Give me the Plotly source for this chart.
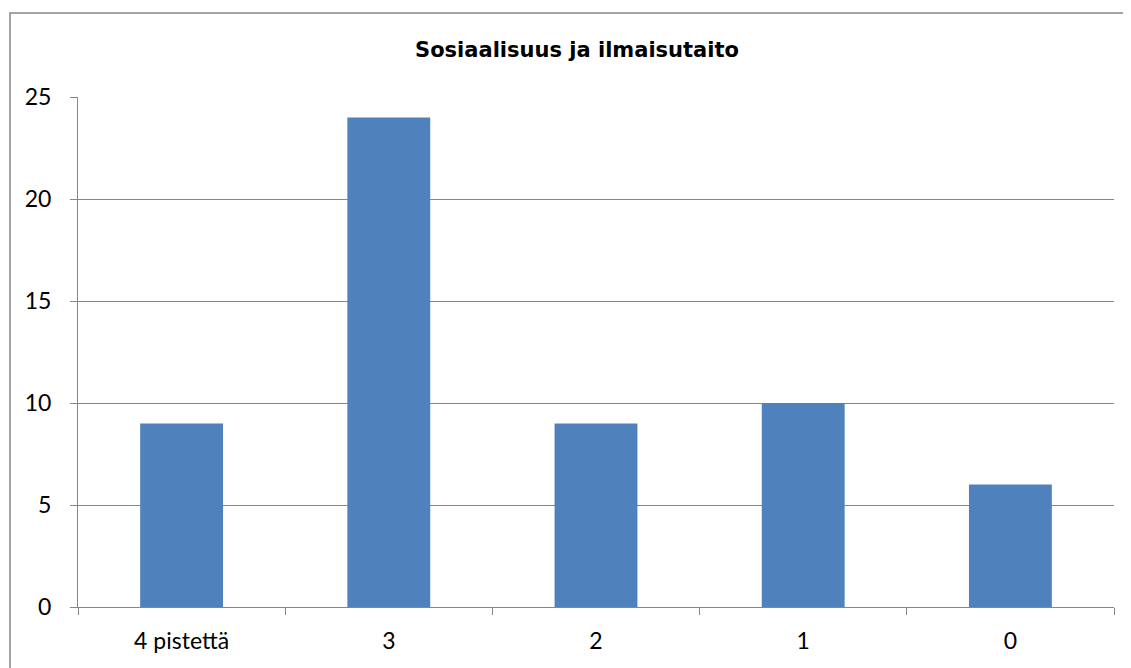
import plotly.graph_objects as go

categories = ["4 pistettä", "3", "2", "1", "0"]
values = [9, 24, 9, 10, 6]
title_text = "Sosiaalisuus ja ilmaisutaito"

OFF = 8  # page body offset
W, H = 1123, 660
L, T = 78 - OFF, 97 - OFF
R = OFF + W - 1114
B = OFF + H - 607
pw, ph = W - L - R, H - T - B

fig = go.Figure(go.Bar(x=categories, y=values, marker=dict(color="#4F81BD", line=dict(width=0)), width=0.4))

fig.update_layout(
    width=W, height=H,
    margin=dict(l=L, r=R, t=T, b=B),
    plot_bgcolor="white", paper_bgcolor="white",
    showlegend=False,
    title=dict(text="<b>" + title_text + "</b>", x=(577 - OFF) / W, xanchor="center",
               y=1 - (50 - OFF) / H, yanchor="middle",
               font=dict(family="DejaVu Sans", size=21, color="black")),
)
fig.update_xaxes(
    type="category", tickson="boundaries", ticks="outside", ticklen=7, tickcolor="#868686",
    showline=True, linecolor="#868686", linewidth=1,
    tickfont=dict(family="Lato", size=23, color="black"),
    ticklabelstandoff=13,
)
fig.update_yaxes(
    range=[0, 25], dtick=5, ticks="outside", ticklen=7, tickcolor="#868686",
    showgrid=True, gridcolor="#868686", gridwidth=1,
    showline=True, linecolor="#868686", linewidth=1, zeroline=False,
    tickfont=dict(family="Lato", size=23, color="black"),
    ticklabelstandoff=14,
)
fig.add_shape(type="rect", xref="paper", yref="paper",
              x0=(10 - 78) / pw, x1=1.2, y0=-0.5, y1=1 + (97 - 13) / ph,
              line=dict(color="#868686", width=1.5), fillcolor="rgba(0,0,0,0)", layer="below")

fig.write_html("out.html")
